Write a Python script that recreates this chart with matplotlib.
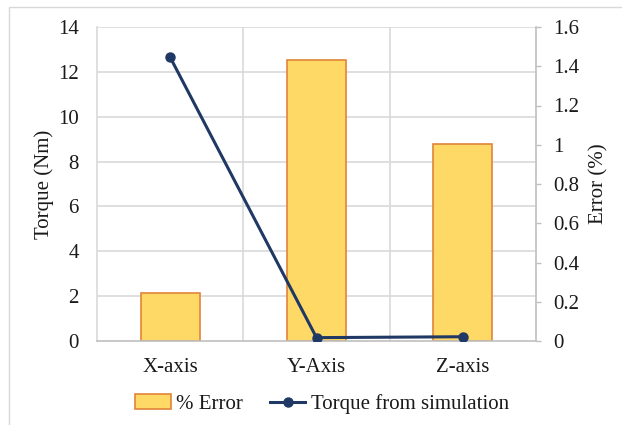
import matplotlib
matplotlib.use("Agg")
import matplotlib.pyplot as plt
from matplotlib.lines import Line2D
from matplotlib.patches import Rectangle

categories = ["X-axis", "Y-Axis", "Z-axis"]
error_pct = [0.245, 1.43, 1.005]
torque_sim = [12.65, 0.15, 0.19]

left_ticks = [0, 2, 4, 6, 8, 10, 12, 14]
right_ticks = [0, 0.2, 0.4, 0.6, 0.8, 1.0, 1.2, 1.4, 1.6]
right_labels = ["0", "0.2", "0.4", "0.6", "0.8", "1", "1.2", "1.4", "1.6"]

plt.rcParams['font.family'] = ['Liberation Serif', 'DejaVu Serif']
FS = 15
grid_c = "#D9D9D9"
bar_fc = "#FFD966"
bar_ec = "#E0843A"
line_c = "#1F3864"
txt_c = "#1a1a1a"

fig = plt.figure(figsize=(6.22, 4.25), dpi=100)
fig.patches.append(Rectangle((9/622, -0.1), 1.2, 1 - 7/425 + 0.1, transform=fig.transFigure,
                             fill=False, edgecolor="#D9D9D9", lw=1.0))

ax = fig.add_axes([97/622, 1 - 341/425, (536 - 97)/622, (341 - 27)/425])
ax2 = ax.twinx()

x = list(range(len(categories)))

# bars on the right (Error %) axis
ax2.bar(x, error_pct, width=0.405, color=bar_fc, edgecolor=bar_ec, lw=1.2, zorder=2)
ax2.set_ylim(0, 1.6)
ax2.set_yticks(right_ticks)
ax2.set_yticklabels(right_labels)
ax2.tick_params(axis='y', direction='out', length=3.6, width=1, color="#BFBFBF",
                labelsize=FS, labelcolor=txt_c, pad=8.6)
ax2.set_ylabel("Error (%)", fontsize=FS, color=txt_c, labelpad=7)

# line on the left (Torque) axis, drawn above bars
ax.set_zorder(ax2.get_zorder() + 1)
ax.patch.set_visible(False)
ax2.patch.set_visible(True)
ax2.patch.set_facecolor("white")
ax.plot(x, torque_sim, color=line_c, lw=2.2, marker='o', ms=6.5, zorder=3)
ax.set_ylim(0, 14)
ax.set_yticks(left_ticks)
ax.tick_params(axis='y', length=0, labelsize=FS, labelcolor=txt_c, pad=13)
ax.set_ylabel("Torque (Nm)", fontsize=FS, color=txt_c, labelpad=3)

ax.set_xlim(-0.5, 2.5)
ax.set_xticks(x)
ax.set_xticklabels(categories)
ax.tick_params(axis='x', length=0, labelsize=FS, labelcolor=txt_c, pad=12)

# gridlines on the back axes
for t in left_ticks[1:]:
    ax2.axhline(t * 1.6 / 14, color=grid_c, lw=1.2, zorder=0)
for b in [0.5, 1.5]:
    ax2.axvline(b, color=grid_c, lw=1.2, zorder=0)
ax2.set_xlim(-0.5, 2.5)

for a in (ax, ax2):
    for s in a.spines.values():
        s.set_visible(False)
ax2.spines['left'].set_visible(True)
ax2.spines['left'].set_color(grid_c)
ax2.spines['left'].set_linewidth(1.2)
ax2.spines['right'].set_visible(True)
ax2.spines['right'].set_color("#BFBFBF")
ax2.spines['right'].set_linewidth(1.2)
ax2.spines['bottom'].set_visible(True)
ax2.spines['bottom'].set_color("#BFBFBF")
ax2.spines['bottom'].set_linewidth(1.2)

handles = [Rectangle((0, 0), 1, 1, facecolor=bar_fc, edgecolor=bar_ec, lw=1.2),
           Line2D([0], [0], color=line_c, lw=2.2, marker='o', ms=6.5)]
fig.legend(handles, ["% Error", "Torque from simulation"], loc='center',
           bbox_to_anchor=(322/622, 1 - 404/425), ncol=2, frameon=False,
           fontsize=FS, handlelength=1.7, handletextpad=0.25, columnspacing=1.3,
           labelcolor=txt_c)

fig.savefig("out.png", dpi=100)
